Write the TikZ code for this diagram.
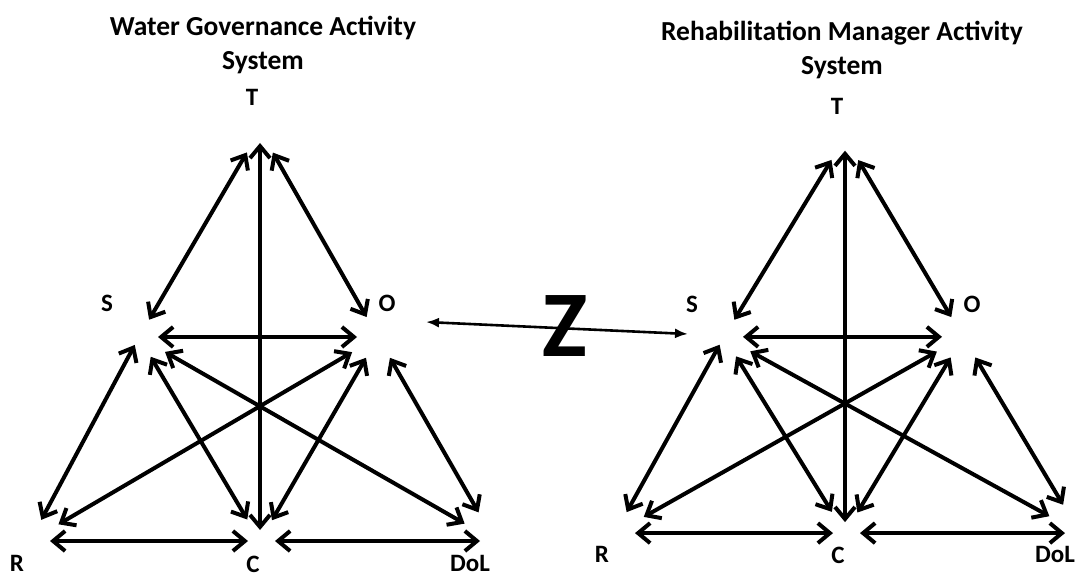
\documentclass[tikz,border=0pt]{standalone}
\usepackage{fontspec}
\setmainfont{Carlito}
\usetikzlibrary{arrows.meta}
\tikzset{
  link/.style  = {{Straight Barb[length=12pt,width=20pt]}-{Straight Barb[length=12pt,width=20pt]},
                  line width=4pt},
  zlink/.style = {{Latex[length=13pt,width=10pt]}-{Latex[length=13pt,width=10pt]}, line width=2.6pt},
  lbl/.style   = {font=\fontsize{25}{28}\selectfont\bfseries, inner sep=0pt},
  ttl/.style   = {font=\fontsize{27.5}{34}\selectfont\bfseries, align=center, inner sep=0pt},
  zmark/.style = {font=\fontsize{94}{94}\selectfont\bfseries, inner sep=0pt},
}
\begin{document}
\begin{tikzpicture}[x=1pt,y=-1pt]
  \useasboundingbox (0,0) rectangle (1078,577);
  \node[ttl] (wgtitle) at (263,45) {Water Governance Activity\\System};
  \node[ttl] (rmtitle) at (842,50) {Rehabilitation Manager Activity\\System};
  % the two activity systems, second one shifted and a bit flatter
  \foreach \p/\sx/\sk in {a/0/1, b/585/0.962} {
    \begin{scope}[shift={(\sx,333)}, yscale=\sk, shift={(0,-333)}]
      \coordinate (\p T) at (260,130);
      \coordinate (\p S) at (139,337);
      \coordinate (\p O) at (378,337);
      \coordinate (\p R) at (30,541);
      \coordinate (\p C) at (260,541);
      \coordinate (\p D) at (495,541);
      \node[lbl] (\p Tl) at (252,97)  {T};
      \node[lbl] (\p Sl) at (107,303) {S};
      \node[lbl] (\p Ol) at (387,303) {O};
      \node[lbl] (\p Rl) at (17,563)  {R};
      \node[lbl] (\p Cl) at (253,564) {C};
      \node[lbl] (\p Dl) at (470,563) {DoL};
      \foreach \u/\v/\su/\sv in {T/S/26pt/20pt, T/O/26pt/23pt, T/C/13pt/11pt,
          S/O/19pt/21pt, S/R/9pt/24pt, S/C/23pt/25pt, S/D/30pt/35pt,
          O/R/30pt/33pt, O/C/24pt/24pt, O/D/24pt/33pt, R/C/20pt/12pt, C/D/15pt/15pt}
        \draw[link, shorten <=\su, shorten >=\sv] (\p\u) -- (\p\v);
    \end{scope}
  }
  \coordinate (zl) at (426,322);
  \coordinate (zr) at (688,334);
  \node[zmark] (zsym) at (565,326) {Z};
  \draw[zlink] (zl) -- (zr);
\end{tikzpicture}
\end{document}
